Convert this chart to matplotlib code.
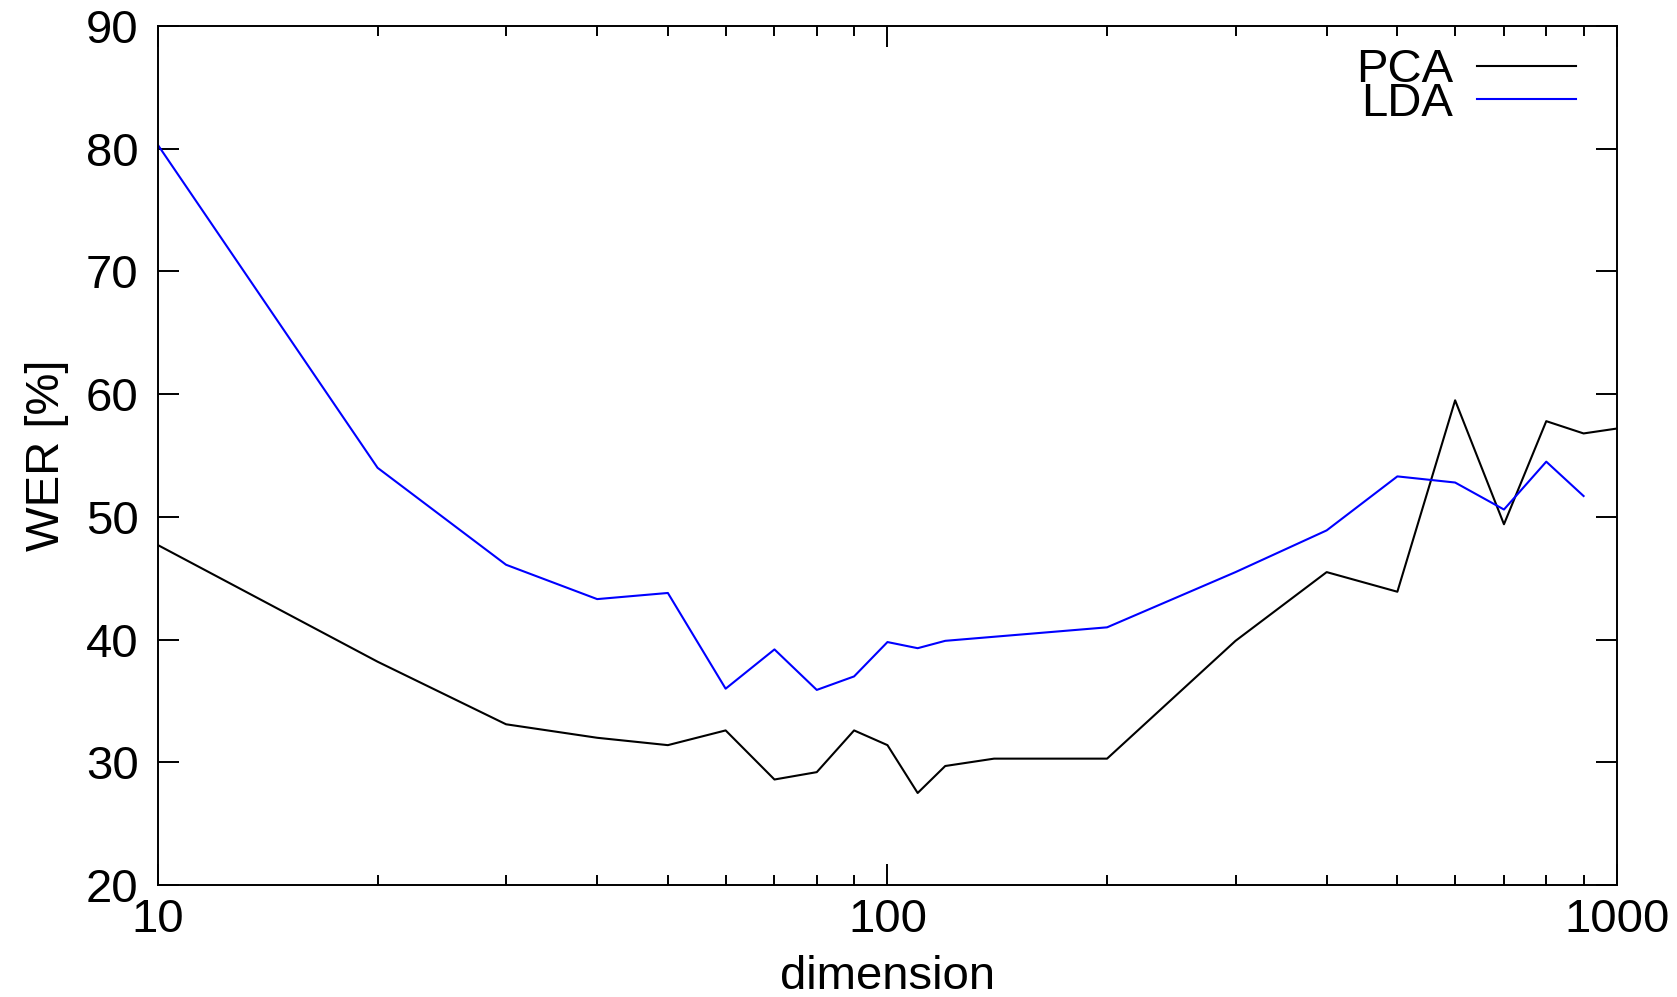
import matplotlib
matplotlib.use("Agg")
from matplotlib import pyplot as plt
from matplotlib.ticker import FixedLocator, NullFormatter

plt.rcParams['font.family'] = ['Liberation Sans', 'DejaVu Sans']

# dimensions (log x) and WER values
dim_pca = [10, 20, 30, 40, 50, 60, 70, 80, 90, 100, 110, 120, 140, 200,
           300, 400, 500, 600, 700, 800, 900, 1000]
wer_pca = [47.7, 38.2, 33.1, 32.0, 31.4, 32.6, 28.6, 29.2, 32.6, 31.4, 27.5, 29.7, 30.3, 30.3,
           39.9, 45.5, 43.9, 59.5, 49.4, 57.8, 56.8, 57.2]

dim_lda = [10, 20, 30, 40, 50, 60, 70, 80, 90, 100, 110, 120, 200,
           300, 400, 500, 600, 700, 800, 900]
wer_lda = [80.3, 54.0, 46.1, 43.3, 43.8, 36.0, 39.2, 35.9, 37.0, 39.8, 39.3, 39.9, 41.0,
           45.5, 48.9, 53.3, 52.8, 50.6, 54.5, 51.7]

xticks = [10, 100, 1000]
yticks = [20, 30, 40, 50, 60, 70, 80, 90]

fig = plt.figure(figsize=(16.77, 9.97), dpi=100)
ax = fig.add_axes([0.0942, 0.1123, 0.8700, 0.8616])

ax.plot(dim_pca, wer_pca, color='black', lw=1.5, label='PCA')
ax.plot(dim_lda, wer_lda, color='blue', lw=1.5, label='LDA')

ax.set_xscale('log')
ax.set_xlim(10, 1000)
ax.set_ylim(20, 90)
ax.set_xticks(xticks)
ax.set_xticklabels([str(t) for t in xticks])
minors = [m * d for d in (10, 100) for m in range(2, 10)]
ax.xaxis.set_minor_locator(FixedLocator(minors))
ax.xaxis.set_minor_formatter(NullFormatter())
ax.set_yticks(yticks)

for s in ax.spines.values():
    s.set_linewidth(1.4)
ax.tick_params(which='both', direction='in', top=True, right=True, width=1.4, labelsize=34)
ax.tick_params(which='major', length=15)
ax.tick_params(which='minor', length=7)
ax.tick_params(axis='x', pad=9)
ax.tick_params(axis='y', pad=14)

ax.set_xlabel('dimension', fontsize=34, labelpad=10)
ax.set_ylabel('WER [%]', fontsize=34, labelpad=12)

ax.legend(loc='upper right', bbox_to_anchor=(0.985, 0.996), borderaxespad=0,
          frameon=False, markerfirst=False, fontsize=34,
          handlelength=2.1, labelspacing=-0.22, handletextpad=0.5)

fig.savefig('out.png', dpi=100)
